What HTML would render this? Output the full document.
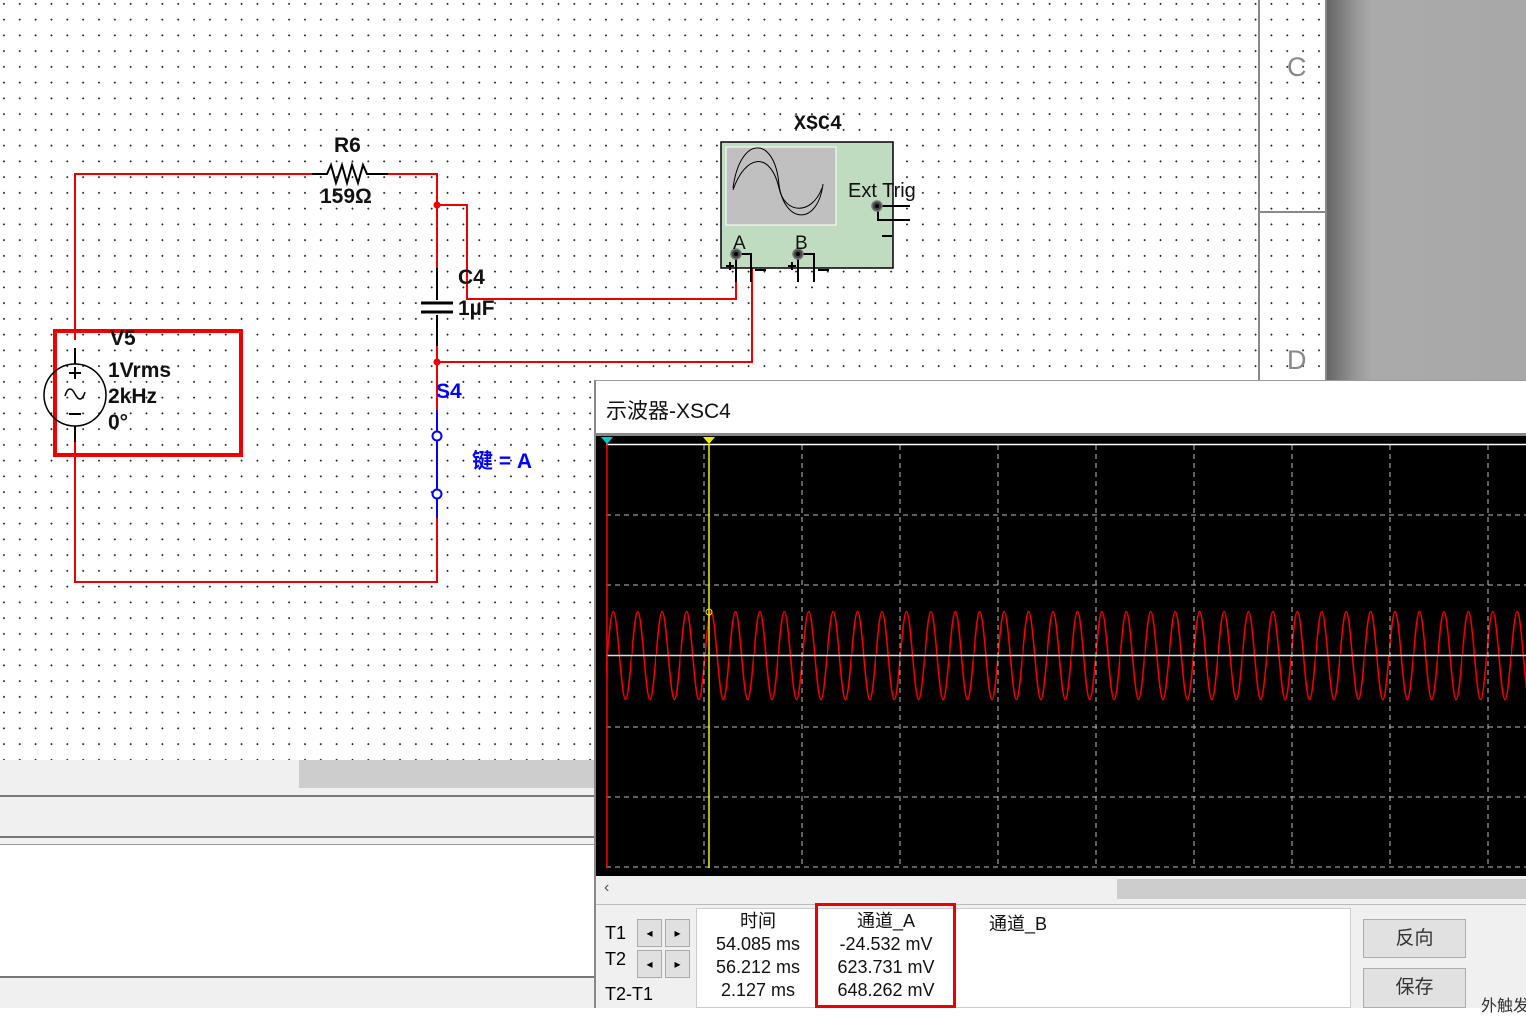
<!DOCTYPE html>
<html><head><meta charset="utf-8"><style>
*{margin:0;padding:0;box-sizing:border-box}
body{width:1526px;height:1008px;overflow:hidden;position:relative;background:#fff;font-family:"Liberation Sans","Noto Sans CJK SC",sans-serif}
.abs{position:absolute;white-space:nowrap}
.grid{background-image:radial-gradient(circle,#222 0.8px,transparent 1px);background-size:15.85px 15.75px;background-position:-4px -4px}
.t{position:absolute;font-weight:bold;color:#111;font-size:21px;line-height:1;white-space:nowrap}
</style></head><body>
<div class="abs grid" style="left:0;top:0;width:1328px;height:760px"></div>
<!-- right panel -->
<div class="abs" style="left:1258px;top:0;width:2px;height:380px;background:#888"></div>
<div class="abs" style="left:1325px;top:0;width:2px;height:380px;background:#888"></div>
<div class="abs" style="left:1259px;top:211px;width:69px;height:2px;background:#888"></div>
<div class="abs" style="left:1287px;top:52px;font-size:27px;color:#888">C</div>
<div class="abs" style="left:1287px;top:345px;font-size:27px;color:#888">D</div>
<div class="abs" style="left:1327px;top:0;width:199px;height:380px;background:linear-gradient(to right,#666 0px,#999 30px,#aaa 45px,#a8a8a8 100%)"></div>
<!-- bottom-left panels -->
<div class="abs" style="left:0;top:760px;width:596px;height:248px;background:#f0f0f0"></div>
<div class="abs" style="left:299px;top:760px;width:297px;height:28px;background:#cdcdcd"></div>
<div class="abs" style="left:0;top:795px;width:596px;height:2px;background:#777"></div>
<div class="abs" style="left:0;top:836px;width:596px;height:2px;background:#777"></div>
<div class="abs" style="left:0;top:844px;width:596px;height:132px;background:#fff;border-top:1px solid #999"></div>
<div class="abs" style="left:0;top:976px;width:596px;height:2px;background:#777"></div>

<!-- circuit -->
<svg class="abs" style="left:0;top:0" width="1000" height="760">
<g fill="none" stroke="#e00" stroke-width="2">
<polyline points="75,340 75,174 312,174"/>
<polyline points="388,174 437,174 437,268"/>
<polyline points="437,205 467,205 467,299 736,299 736,272"/>
<polyline points="437,340 437,410"/>
<polyline points="437,362 752,362 752,254"/>
<polyline points="75,440 75,582 437,582 437,518"/>
<rect x="55" y="331" width="186" height="124" stroke-width="4"/>
</g>
<g fill="#e00"><circle cx="437" cy="205" r="3.5"/><circle cx="437" cy="362" r="3.5"/></g>
<g fill="none" stroke="#000" stroke-width="2">
<polyline points="312,174 327,174 331,165 336,183 342,165 347,183 352,165 358,183 363,165 367,174 388,174"/>
<line x1="437" y1="268" x2="437" y2="300"/><line x1="421" y1="303" x2="453" y2="303" stroke-width="3"/><line x1="421" y1="312" x2="453" y2="312" stroke-width="3"/><line x1="437" y1="315" x2="437" y2="346"/>
<circle cx="75" cy="395" r="31" stroke-width="1.5"/>
<line x1="75" y1="348" x2="75" y2="364"/><line x1="75" y1="426" x2="75" y2="442"/>
<line x1="69" y1="373" x2="81" y2="373"/><line x1="75" y1="367" x2="75" y2="379"/><line x1="69" y1="414" x2="81" y2="414"/>
<path d="M65,396 C68,386 72,388 75,394 C78,400 82,402 85,392" stroke-width="1.5"/>
</g>
<g stroke="#00f" stroke-width="2" fill="#fff"><line x1="437" y1="410" x2="437" y2="518"/><circle cx="437" cy="436" r="4.5"/><circle cx="437" cy="494" r="4.5"/></g>
<!-- scope icon -->
<rect x="721" y="142" width="172" height="126" fill="#c0dcc0" stroke="#000" stroke-width="1.5"/>
<rect x="726" y="147" width="110" height="78" fill="#c0c0c0" stroke="#fff"/>
<g fill="none" stroke="#000" stroke-width="1"><path d="M733,188 C740,135 775,135 779,185 C785,225 818,225 823,184"/><path d="M733,190 C745,155 770,150 779,188 C785,215 812,215 822,188"/></g>
<g stroke="#000" stroke-width="2" fill="none">
<polyline points="878,206 910,206"/><polyline points="878,206 878,220 910,220"/><line x1="882" y1="236" x2="892" y2="236"/>
<line x1="736" y1="254" x2="736" y2="282"/><polyline points="736,254 751,254 751,282"/>
<line x1="798" y1="254" x2="798" y2="282"/><polyline points="798,254 814,254 814,282"/>
<line x1="755" y1="270" x2="766" y2="270"/><line x1="818" y1="270" x2="829" y2="270"/>
<line x1="726" y1="266" x2="734" y2="266"/><line x1="730" y1="262" x2="730" y2="270"/>
<line x1="788" y1="266" x2="796" y2="266"/><line x1="792" y1="262" x2="792" y2="270"/>
</g>
<g fill="#444" stroke="#777" stroke-width="1.5"><circle cx="877" cy="206" r="5"/><circle cx="736" cy="254" r="5"/><circle cx="798" cy="254" r="5"/></g>
<g fill="#000"><circle cx="877" cy="206" r="2"/><circle cx="736" cy="254" r="2"/><circle cx="798" cy="254" r="2"/></g>
</svg>
<div class="t" style="left:334px;top:135px">R6</div>
<div class="t" style="left:320px;top:186px">159Ω</div>
<div class="t" style="left:458px;top:267px">C4</div>
<div class="t" style="left:458px;top:298px">1µF</div>
<div class="t" style="left:110px;top:328px">V5</div>
<div class="t" style="left:108px;top:360px">1Vrms</div>
<div class="t" style="left:108px;top:386px">2kHz</div>
<div class="t" style="left:108px;top:412px">0°</div>
<div class="t" style="left:436px;top:381px;color:#00f">S4</div>
<div class="t" style="left:472px;top:451px;color:#00f;font-weight:bold">键 = A</div>
<div class="abs" style="left:794px;top:113px;font-family:'Liberation Mono',monospace;font-weight:bold;font-size:20px;color:#111">XSC4</div>
<div class="abs" style="left:848px;top:180px;font-size:20px;color:#111">Ext Trig</div>
<div class="abs" style="left:733px;top:233px;font-size:19px;color:#111">A</div>
<div class="abs" style="left:795px;top:233px;font-size:19px;color:#111">B</div>

<!-- scope window -->
<div class="abs" style="left:594px;top:380px;width:932px;height:628px;background:#f0f0f0;border-left:2px solid #888;border-top:1px solid #999"></div>
<div class="abs" style="left:596px;top:381px;width:930px;height:52px;background:#fff"></div>
<div class="abs" style="left:606px;top:395px;font-size:21px;color:#111">示波器-XSC4</div>
<div class="abs" style="left:596px;top:433px;width:930px;height:3px;background:#888"></div>
<svg class="abs" style="left:596px;top:436px" width="930" height="440">
<defs><pattern id="sw" patternUnits="userSpaceOnUse" x="11.2" y="0" width="24.43" height="440">
<path d="M0,219.5 C2.03,196.5 3.91,175.5 6.11,175.5 C8.31,175.5 10.19,196.5 12.22,219.5 C14.25,242.5 16.13,263.5 18.33,263.5 C20.53,263.5 22.41,242.5 24.43,219.5" fill="none" stroke="#f00" stroke-width="1.5"/></pattern></defs>
<rect width="930" height="440" fill="#000"/>
<rect x="10" y="0" width="920" height="440" fill="url(#sw)"/>
<g stroke="#bbb" stroke-dasharray="5,4" stroke-width="1">
<line x1="10" y1="79" x2="930" y2="79"/><line x1="10" y1="149" x2="930" y2="149"/><line x1="10" y1="291" x2="930" y2="291"/><line x1="10" y1="361" x2="930" y2="361"/><line x1="10" y1="431" x2="930" y2="431"/>
<line x1="108" y1="9" x2="108" y2="432"/><line x1="206" y1="9" x2="206" y2="432"/><line x1="304" y1="9" x2="304" y2="432"/><line x1="402" y1="9" x2="402" y2="432"/><line x1="500" y1="9" x2="500" y2="432"/><line x1="598" y1="9" x2="598" y2="432"/><line x1="696" y1="9" x2="696" y2="432"/><line x1="794" y1="9" x2="794" y2="432"/><line x1="892" y1="9" x2="892" y2="432"/>
</g>
<line x1="10" y1="8.5" x2="930" y2="8.5" stroke="#fff" stroke-width="1.5"/>
<line x1="10" y1="219.5" x2="930" y2="219.5" stroke="#ddd" stroke-width="1.5"/>
<line x1="11" y1="8" x2="11" y2="432" stroke="#f00" stroke-width="1.5"/>
<line x1="113" y1="8" x2="113" y2="432" stroke="#ee0" stroke-width="1.5"/>
<polygon points="5,1 17,1 11,8" fill="#0cc"/><polygon points="107,1 119,1 113,8" fill="#ee0"/>
<circle cx="113" cy="176" r="3" fill="none" stroke="#ee0"/>
</svg>
<div class="abs" style="left:596px;top:876px;width:930px;height:26px;background:#f0f0f0"></div>
<div class="abs" style="left:1117px;top:879px;width:409px;height:20px;background:#cdcdcd"></div>
<div class="abs" style="left:604px;top:879px;font-size:16px;color:#555">‹</div>
<div class="abs" style="left:596px;top:904px;width:930px;height:1px;background:#bbb"></div>
<div class="abs" style="left:696px;top:908px;width:655px;height:100px;background:#fff;border:1px solid #ccc"></div>
<div class="abs" style="left:605px;top:923px;font-size:18px;color:#000">T1</div>
<div class="abs" style="left:605px;top:949px;font-size:18px;color:#000">T2</div>
<div class="abs" style="left:605px;top:984px;font-size:18px;color:#000">T2-T1</div>
<div class="abs" style="left:637px;top:919px;width:25px;height:28px;background:#e0e0e0;border:1px solid #aaa;font-size:12px;text-align:center;line-height:26px">◂</div>
<div class="abs" style="left:665px;top:919px;width:25px;height:28px;background:#e0e0e0;border:1px solid #aaa;font-size:12px;text-align:center;line-height:26px">▸</div>
<div class="abs" style="left:637px;top:950px;width:25px;height:28px;background:#e0e0e0;border:1px solid #aaa;font-size:12px;text-align:center;line-height:26px">◂</div>
<div class="abs" style="left:665px;top:950px;width:25px;height:28px;background:#e0e0e0;border:1px solid #aaa;font-size:12px;text-align:center;line-height:26px">▸</div>
<div class="abs" style="left:700px;top:910px;width:116px;text-align:center;font-size:18px;line-height:23px;color:#111;white-space:normal">时间<br>54.085 ms<br>56.212 ms<br>2.127 ms</div>
<div class="abs" style="left:815px;top:903px;width:141px;height:105px;border:3px solid #e00"></div>
<div class="abs" style="left:820px;top:910px;width:132px;text-align:center;font-size:18px;line-height:23px;color:#111;white-space:normal">通道_A<br>-24.532 mV<br>623.731 mV<br>648.262 mV</div>
<div class="abs" style="left:989px;top:910px;font-size:18px;color:#111">通道_B</div>
<div class="abs" style="left:1363px;top:919px;width:103px;height:39px;background:#e1e1e1;border:1px solid #adadad;text-align:center;line-height:37px;font-size:19px;color:#333">反向</div>
<div class="abs" style="left:1363px;top:968px;width:103px;height:40px;background:#e1e1e1;border:1px solid #adadad;text-align:center;line-height:38px;font-size:19px;color:#333">保存</div>
<div class="abs" style="left:1481px;top:992px;font-size:16px;color:#333">外触发</div>
</body></html>
